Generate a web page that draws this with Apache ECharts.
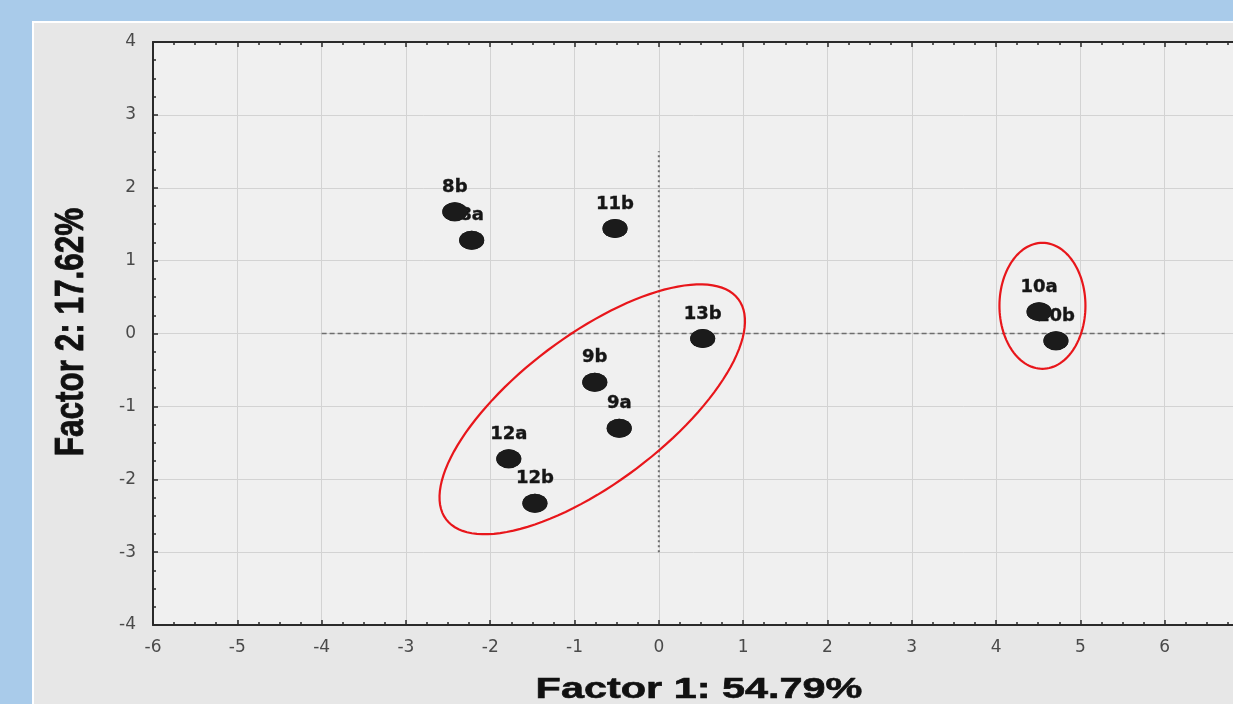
<!DOCTYPE html>
<html>
<head>
<meta charset="utf-8">
<script src="https://cdn.jsdelivr.net/npm/echarts@6/dist/echarts.min.js"></script>
<style>
  html, body { margin: 0; padding: 0; background: #a9cbea; }
  #chart { width: 1233px; height: 704px; }
</style>
</head>
<body>
<div id="chart"></div>
<script>
// ---- data ----
const pointLabels = ['8b', '8a', '11b', '13b', '9b', '9a', '12a', '12b', '10a', '10b'];
const factor1 = [-2.42, -2.22, -0.52, 0.52, -0.76, -0.47, -1.78, -1.47, 4.51, 4.71];
const factor2 = [1.67, 1.28, 1.44, -0.07, -0.67, -1.30, -1.72, -2.33, 0.30, -0.10];
const xTitle = 'Factor 1: 54.79%';
const yTitle = 'Factor 2: 17.62%';
// dashed reference lines (data coordinates)
const hRefX = [-4, 6];
const vRefY = [-3, 2.5];
// centres of the two highlighted groups
const groupCentreX = [-0.79, 4.55];
const groupCentreY = [-1.04, 0.38];

const pts = factor1.map((x, i) => [x, factor2[i], pointLabels[i]]);

const chart = echarts.init(document.getElementById('chart'), null, { renderer: 'canvas' });

const axisCommon = {
  type: 'value',
  axisLine: { show: true, onZero: false, lineStyle: { color: '#2a2a2a', width: 2 } },
  axisTick: { show: true, inside: true, length: 5, lineStyle: { color: '#2a2a2a', width: 1.5 } },
  minorTick: { show: true, splitNumber: 4, length: 3, lineStyle: { color: '#2a2a2a', width: 1.5 } },
  splitLine: { show: true, lineStyle: { color: '#d3d3d3', width: 1 } },
  axisLabel: { color: '#4a4a4a', fontFamily: 'DejaVu Sans', fontSize: 17 }
};

// ellipse shape sizes (in x-axis units) and rotation (deg, counter-clockwise)
const ellipseShape = [
  { rx: 2.17, ry: 0.877, rot: 37 },
  { rx: 0.51, ry: 0.747, rot: 0 }
];

const option = {
  backgroundColor: '#a9cbea',
  animation: false,
  graphic: [
    { type: 'rect', z: -10, shape: { x: 33, y: 22, width: 1230, height: 720 },
      style: { fill: '#e7e7e7', stroke: '#ffffff', lineWidth: 2 } },
    { type: 'text', z: 100, x: 699, y: 690, scaleX: 1.38, scaleY: 1,
      style: { text: xTitle, fill: '#111', font: 'bold 30px "Liberation Sans", Arial, sans-serif',
               textAlign: 'center', textVerticalAlign: 'middle', stroke: '#111', lineWidth: 0.6 } },
    { type: 'text', z: 100, x: 72, y: 332, rotation: Math.PI / 2, scaleX: 1.05, scaleY: 1.35,
      style: { text: yTitle, fill: '#111', font: 'bold 30px "Liberation Sans", Arial, sans-serif',
               textAlign: 'center', textVerticalAlign: 'middle', stroke: '#111', lineWidth: 0.6 } }
  ],
  grid: {
    left: 153, top: 42, right: -16, bottom: 79,
    outerBoundsMode: 'none', containLabel: false,
    show: true, backgroundColor: '#f0f0f0', borderWidth: 0
  },
  xAxis: [
    Object.assign({}, axisCommon, {
      position: 'bottom', min: -6, max: 7, interval: 1,
      axisLabel: Object.assign({}, axisCommon.axisLabel, { margin: 14 })
    }),
    Object.assign({}, axisCommon, {
      position: 'top', min: -6, max: 7, interval: 1,
      axisLabel: { show: false }, splitLine: { show: false }
    })
  ],
  yAxis: [
    Object.assign({}, axisCommon, {
      position: 'left', min: -4, max: 4, interval: 1,
      axisLabel: Object.assign({}, axisCommon.axisLabel, { margin: 17 })
    })
  ],
  series: [
    {
      type: 'line', xAxisIndex: 0, yAxisIndex: 0, z: 1,
      data: hRefX.map(x => [x, 0]), symbol: 'none',
      lineStyle: { color: '#6e6e6e', width: 1.5, type: [5, 3] }
    },
    {
      type: 'line', xAxisIndex: 0, yAxisIndex: 0, z: 1,
      data: vRefY.map(y => [0, y]), symbol: 'none',
      lineStyle: { color: '#6e6e6e', width: 2, type: [2, 3] }
    },
    {
      type: 'scatter', xAxisIndex: 0, yAxisIndex: 0, z: 2,
      data: pts, symbol: 'circle', symbolSize: [25, 19],
      itemStyle: { color: '#1b1b1b', opacity: 1 },
      label: {
        show: true, position: 'top', distance: 6, opacity: 1,
        formatter: p => p.data[2],
        color: '#161616', fontFamily: 'DejaVu Sans', fontWeight: 'bold', fontSize: 18,
        textBorderColor: '#161616', textBorderWidth: 0.4
      }
    },
    {
      type: 'scatter', xAxisIndex: 0, yAxisIndex: 0, z: 3,
      data: pts, symbol: 'circle', symbolSize: [25, 19],
      itemStyle: { color: '#1b1b1b', opacity: 1 }, label: { show: false }
    },
    {
      type: 'custom', xAxisIndex: 0, yAxisIndex: 0, z: 4,
      data: groupCentreX.map((x, i) => [x, groupCentreY[i]]),
      renderItem: function (params, api) {
        const c = api.coord([api.value(0), api.value(1)]);
        const u = api.size([1, 0])[0];
        const s = ellipseShape[params.dataIndex];
        const a = s.rx * u, b = s.ry * u, r = s.rot * Math.PI / 180;
        const points = [];
        for (let k = 0; k < 120; k++) {
          const t = k / 120 * Math.PI * 2;
          const ex = a * Math.cos(t), ey = b * Math.sin(t);
          points.push([c[0] + ex * Math.cos(r) - ey * Math.sin(r),
                       c[1] - (ex * Math.sin(r) + ey * Math.cos(r))]);
        }
        return {
          type: 'polygon', shape: { points: points },
          style: { fill: 'none', stroke: '#e8161b', lineWidth: 2.2 }
        };
      }
    }
  ]
};

chart.setOption(option);
</script>
</body>
</html>
